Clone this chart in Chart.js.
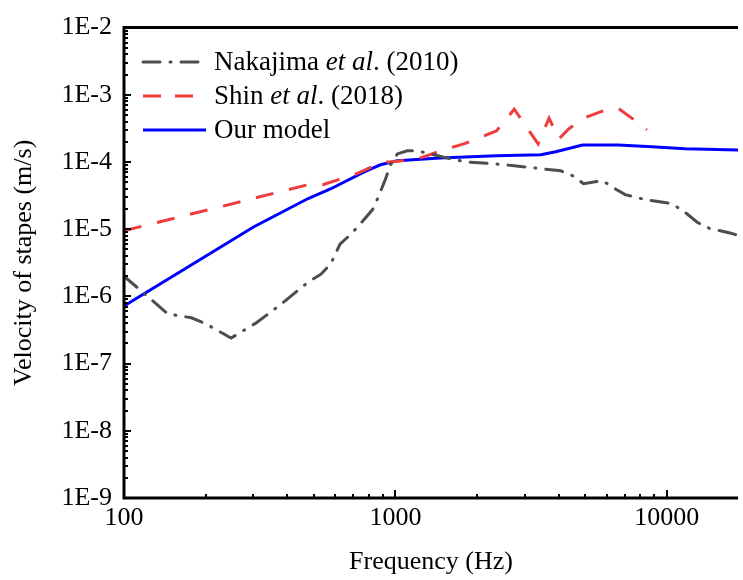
<!DOCTYPE html>
<html>
<head>
<meta charset="utf-8">
<script src="https://cdn.jsdelivr.net/npm/chart.js@4.4.1/dist/chart.umd.min.js"></script>
<style>
  html, body { margin: 0; padding: 0; background: #fff; }
  #wrap { width: 743px; height: 580px; position: relative; }
</style>
</head>
<body>
<div id="wrap"><canvas id="chart"></canvas></div>
<script>
// Frequency (Hz) / stapes velocity (m/s)
const nakajimaFreq = [100, 145, 177, 198, 248, 306, 380, 477, 532, 579, 625, 685, 745, 824, 860, 920, 960, 1017, 1106, 1203, 1387, 1587, 1832, 2317, 2741, 3500, 4065, 4496, 4936, 5790, 6353, 7025, 8317, 9274, 10430, 11830, 12970, 14350, 17260, 18300];
const nakajimaVel = [2.0e-6, 5.5e-7, 4.8e-7, 4.0e-7, 2.4e-7, 4.0e-7, 7.7e-7, 1.63e-6, 2.14e-6, 3.1e-6, 6.0e-6, 8.4e-6, 1.22e-5, 1.96e-5, 2.86e-5, 5.6e-5, 9.1e-5, 1.32e-4, 1.47e-4, 1.47e-4, 1.28e-4, 1.12e-4, 1.0e-4, 9.4e-5, 8.8e-5, 7.9e-5, 7.4e-5, 6.25e-5, 4.76e-5, 5.3e-5, 4.15e-5, 3.27e-5, 2.76e-5, 2.58e-5, 2.41e-5, 1.71e-5, 1.26e-5, 1.03e-5, 8.7e-6, 8.1e-6];

const shinFreq = [100, 206, 477, 540, 708, 897, 960, 1203, 1549, 1787, 2114, 2356, 2741, 3357, 3683, 4003, 4350, 4936, 5790, 6625, 7516, 8451];
const shinVel = [9.5e-6, 1.96e-5, 4.6e-5, 4.6e-5, 6.5e-5, 1.0e-4, 1.0e-4, 1.11e-4, 1.57e-4, 1.86e-4, 2.44e-4, 2.9e-4, 6.1e-4, 1.86e-4, 4.5e-4, 2.2e-4, 3.1e-4, 4.5e-4, 5.7e-4, 6.3e-4, 4.35e-4, 3.0e-4];

const modelFreq = [100, 300, 477, 579, 771, 881, 1017, 1459, 2355, 3436, 3899, 4893, 6625, 8816, 11640, 18300];
const modelVel = [7.2e-7, 1.08e-5, 2.86e-5, 4.0e-5, 7.2e-5, 9.1e-5, 1.04e-4, 1.15e-4, 1.24e-4, 1.28e-4, 1.42e-4, 1.79e-4, 1.79e-4, 1.68e-4, 1.57e-4, 1.51e-4];

const xMin = 100, xMax = 18300;
const yMin = 1e-9, yMax = 1e-2;

const serif = "'Liberation Serif', 'Times New Roman', serif";

function pts(xs, ys) {
    return xs.map((x, i) => ({ x: x, y: ys[i] }));
}

// 1..9 for values like 3e-5, 0 otherwise
function mantissa(v) {
    const e = Math.floor(Math.log10(v) + 1e-9);
    const m = v / Math.pow(10, e);
    const r = Math.round(m);
    return Math.abs(m - r) < 1e-6 ? r : 0;
}

const legendRows = [
    { parts: [['Nakajima ', false], ['et al', true], ['. (2010)', false]], color: '#4d4d4d', dash: [17, 10, 1, 10], cap: 'round' },
    { parts: [['Shin ', false], ['et al', true], ['. (2018)', false]], color: '#f03c3c', dash: [18, 14], cap: 'butt' },
    { parts: [['Our model', false]], color: '#0000ff', dash: [], cap: 'butt' }
];

// inward ticks, box lines and the legend
const framePlugin = {
    id: 'frame',
    afterDraw(chart) {
        const { ctx, chartArea: a, scales } = chart;
        ctx.save();
        ctx.strokeStyle = '#000';
        ctx.lineWidth = 2;
        scales.x.ticks.forEach(t => {
            const m = mantissa(t.value);
            if (!m || t.value >= xMax) return;
            const px = Math.round(scales.x.getPixelForValue(t.value));
            const len = m === 1 ? 8 : 4;
            ctx.beginPath();
            ctx.moveTo(px, a.bottom);
            ctx.lineTo(px, a.bottom - len);
            ctx.stroke();
        });
        scales.y.ticks.forEach(t => {
            const m = mantissa(t.value);
            if (!m) return;
            const py = Math.round(scales.y.getPixelForValue(t.value));
            const len = m === 1 ? 7 : 4;
            ctx.beginPath();
            ctx.moveTo(a.left, py);
            ctx.lineTo(a.left + len, py);
            ctx.stroke();
        });

        ctx.lineWidth = 3;
        ctx.beginPath();
        ctx.moveTo(a.right, a.top);
        ctx.lineTo(a.left, a.top);
        ctx.lineTo(a.left, a.bottom);
        ctx.lineTo(a.right, a.bottom);
        ctx.stroke();

        // legend
        let y0 = 70;
        legendRows.forEach(row => {
            ctx.strokeStyle = row.color;
            ctx.lineWidth = 3;
            ctx.lineCap = row.cap;
            ctx.setLineDash(row.dash);
            ctx.beginPath();
            ctx.moveTo(143, y0 - 8);
            ctx.lineTo(206, y0 - 8);
            ctx.stroke();
            ctx.setLineDash([]);
            let tx = 214;
            ctx.fillStyle = '#000';
            ctx.textBaseline = 'alphabetic';
            row.parts.forEach(([txt, it]) => {
                ctx.font = (it ? 'italic ' : '') + '27px ' + serif;
                ctx.fillText(txt, tx, y0);
                tx += ctx.measureText(txt).width;
            });
            y0 += 34;
        });
        ctx.restore();
    }
};

new Chart(document.getElementById('chart'), {
    type: 'line',
    data: {
        datasets: [
            {
                label: 'Nakajima et al. (2010)',
                data: pts(nakajimaFreq, nakajimaVel),
                borderColor: '#4d4d4d',
                borderWidth: 3,
                borderDash: [17, 10, 1, 10],
                borderCapStyle: 'round',
                pointRadius: 0,
                tension: 0
            },
            {
                label: 'Shin et al. (2018)',
                data: pts(shinFreq, shinVel),
                borderColor: '#f03c3c',
                borderWidth: 3,
                borderDash: [18, 16],
                pointRadius: 0,
                tension: 0
            },
            {
                label: 'Our model',
                data: pts(modelFreq, modelVel),
                borderColor: '#0000ff',
                borderWidth: 3,
                pointRadius: 0,
                tension: 0
            }
        ]
    },
    options: {
        responsive: true,
        maintainAspectRatio: false,
        animation: false,
        layout: { padding: { top: 25, right: 0, bottom: 0, left: 0 } },
        plugins: {
            legend: { display: false },
            tooltip: { enabled: false }
        },
        scales: {
            x: {
                type: 'logarithmic',
                min: xMin,
                max: xMax,
                grid: { display: false, drawTicks: false, tickLength: 0 },
                border: { display: false },
                ticks: {
                    autoSkip: false,
                    maxRotation: 0,
                    padding: 5,
                    color: '#000',
                    font: { family: serif, size: 26 },
                    callback: v => mantissa(v) === 1 ? String(v) : ''
                },
                title: {
                    display: true,
                    text: 'Frequency (Hz)',
                    color: '#000',
                    font: { family: serif, size: 26 },
                    padding: { top: 0, bottom: 2 }
                },
                afterFit: s => { s.height = 82; }
            },
            y: {
                type: 'logarithmic',
                min: yMin,
                max: yMax,
                grid: { display: false, drawTicks: false, tickLength: 0 },
                border: { display: false },
                ticks: {
                    autoSkip: false,
                    padding: 12,
                    color: '#000',
                    font: { family: serif, size: 26 },
                    callback: v => mantissa(v) === 1 ? '1E' + Math.round(Math.log10(v)) : ''
                },
                title: {
                    display: true,
                    text: 'Velocity of stapes (m/s)',
                    color: '#000',
                    font: { family: serif, size: 26 },
                    padding: { top: 9, bottom: 0 }
                },
                afterFit: s => { s.width = 124; }
            }
        }
    },
    plugins: [framePlugin]
});
</script>
</body>
</html>
